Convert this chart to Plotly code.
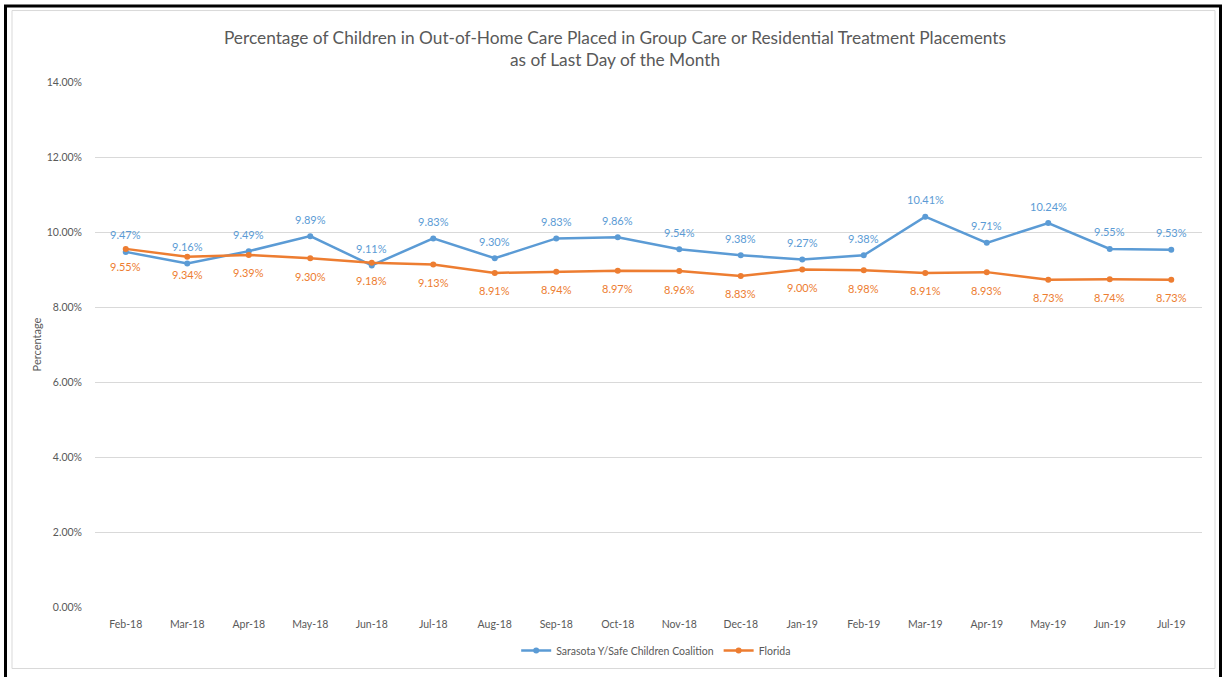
import plotly.graph_objects as go

months = ["Feb-18", "Mar-18", "Apr-18", "May-18", "Jun-18", "Jul-18", "Aug-18", "Sep-18",
          "Oct-18", "Nov-18", "Dec-18", "Jan-19", "Feb-19", "Mar-19", "Apr-19", "May-19",
          "Jun-19", "Jul-19"]
sarasota = [9.47, 9.16, 9.49, 9.89, 9.11, 9.83, 9.30, 9.83, 9.86, 9.54, 9.38, 9.27,
            9.38, 10.41, 9.71, 10.24, 9.55, 9.53]
florida = [9.55, 9.34, 9.39, 9.30, 9.18, 9.13, 8.91, 8.94, 8.97, 8.96, 8.83, 9.00,
           8.98, 8.91, 8.93, 8.73, 8.74, 8.73]
y_ticks = [0, 2, 4, 6, 8, 10, 12, 14]

BLUE = "#5B9BD5"
ORANGE = "#ED7D31"
GREY_TEXT = "#595959"
GRID = "#D9D9D9"
FONT = "Lato, 'Open Sans', sans-serif"

W, H = 1223, 677
ML, MR, MT, MB = 95, 21, 82, 66

fig = go.Figure()

fig.add_trace(go.Scatter(
    x=months, y=sarasota, name="Sarasota Y/Safe Children Coalition",
    mode="lines+markers",
    line=dict(color=BLUE, width=2.5),
    marker=dict(color=BLUE, size=6),
))
fig.add_trace(go.Scatter(
    x=months, y=florida, name="Florida",
    mode="lines+markers",
    line=dict(color=ORANGE, width=2.5),
    marker=dict(color=ORANGE, size=6),
))

# data labels: coalition above its points, Florida below
for m, v in zip(months, sarasota):
    fig.add_annotation(x=m, y=v, text=f"{v:.2f}%", showarrow=False, yshift=17,
                       font=dict(color=BLUE, size=11, family=FONT))
for m, v in zip(months, florida):
    fig.add_annotation(x=m, y=v, text=f"{v:.2f}%", showarrow=False, yshift=-18,
                       font=dict(color=ORANGE, size=11, family=FONT))


def px_x(px):
    return (px - ML) / (W - ML - MR)


def px_y(py):
    return (H - MB - py) / (H - MT - MB)


# outer frame and inner chart-area border
fig.add_shape(type="rect", xref="paper", yref="paper",
              x0=px_x(5.5), x1=px_x(1220.5), y0=px_y(700), y1=px_y(5.5),
              line=dict(color="black", width=3), layer="below")
fig.add_shape(type="rect", xref="paper", yref="paper",
              x0=px_x(12), x1=px_x(1215), y0=px_y(673), y1=px_y(10),
              line=dict(color=GRID, width=1), layer="below")

fig.update_layout(
    width=W, height=H,
    margin=dict(l=ML, r=MR, t=MT, b=MB),
    paper_bgcolor="white", plot_bgcolor="white",
    font=dict(family=FONT, color=GREY_TEXT),
    title=dict(
        text="Percentage of Children in Out-of-Home Care Placed in Group Care or Residential Treatment Placements<br>as of Last Day of the Month",
        x=615 / W, xanchor="center", y=1 - 44 / H, yanchor="middle",
        font=dict(size=17.3, color=GREY_TEXT, family=FONT),
    ),
    xaxis=dict(
        type="category", range=[-0.5, len(months) - 0.5],
        showgrid=False, showline=False, zeroline=False, ticks="",
        tickfont=dict(size=10.5, color=GREY_TEXT),
        ticklabelstandoff=9,
    ),
    yaxis=dict(
        range=[0, 14], tickvals=y_ticks,
        ticktext=[f"{v:.2f}%" for v in y_ticks],
        showgrid=True, gridcolor=GRID, gridwidth=1,
        zeroline=False, showline=False, ticks="",
        tickfont=dict(size=10.5, color=GREY_TEXT),
        ticklabelstandoff=12,
        title=dict(text="Percentage", font=dict(size=11, color=GREY_TEXT), standoff=2),
    ),
    legend=dict(
        orientation="h", x=620 / W, xanchor="center", y=-0.083, yanchor="middle",
        font=dict(size=10.5, color=GREY_TEXT), itemwidth=30,
    ),
    showlegend=True,
)

fig.write_html("out.html")
